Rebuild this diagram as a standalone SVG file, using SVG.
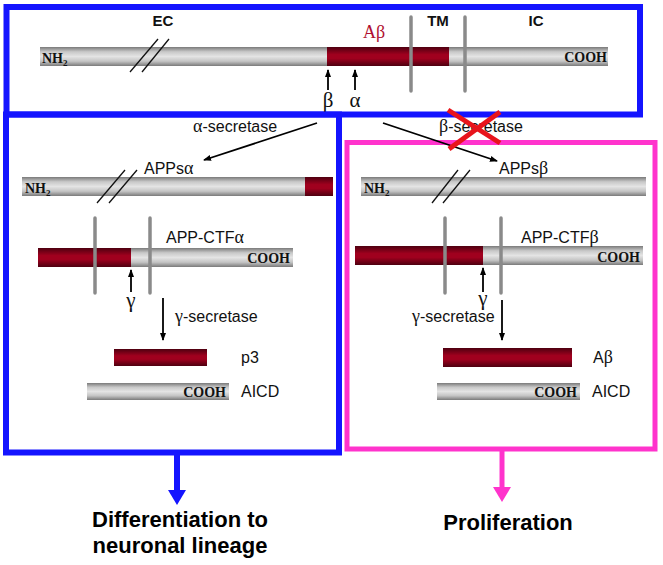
<svg xmlns="http://www.w3.org/2000/svg" width="663" height="565" viewBox="0 0 663 565">
<defs>
<linearGradient id="gGray" x1="0" y1="0" x2="0" y2="1">
<stop offset="0" stop-color="#7a7a7a"/>
<stop offset="0.25" stop-color="#c8c8c8"/>
<stop offset="0.5" stop-color="#e4e4e4"/>
<stop offset="0.75" stop-color="#c4c4c4"/>
<stop offset="1" stop-color="#7a7a7a"/>
</linearGradient>
<linearGradient id="gRed" x1="0" y1="0" x2="0" y2="1">
<stop offset="0" stop-color="#4e0010"/>
<stop offset="0.4" stop-color="#a0001e"/>
<stop offset="0.6" stop-color="#a0001e"/>
<stop offset="1" stop-color="#4e0010"/>
</linearGradient>
<marker id="ah" markerWidth="8" markerHeight="8" refX="7" refY="4" orient="auto" markerUnits="userSpaceOnUse">
<path d="M0,1 L8,4 L0,7 Z" fill="#000"/>
</marker>
<style>
.gray{fill:url(#gGray);}
.red{fill:url(#gRed);}
.tm{stroke:#8a8a8a;stroke-width:3.5;stroke-linecap:round;}
.sl{stroke:#111;stroke-width:1.3;}
.lbl{font-family:"Liberation Sans",Arial,sans-serif;font-size:16px;fill:#111;}
.g{font-family:"Liberation Serif","Times New Roman",serif;}
.reg{font-family:"Liberation Sans",Arial,sans-serif;font-weight:bold;font-size:15px;fill:#111;}
.term{font-family:"Liberation Serif","Times New Roman",serif;font-weight:bold;font-size:14px;fill:#111;}
.sub{font-size:9px;}
.greek{font-family:"Liberation Serif","Times New Roman",serif;font-size:21px;fill:#111;text-anchor:middle;}
.out{font-family:"Liberation Sans",Arial,sans-serif;font-weight:bold;font-size:22px;fill:#000;text-anchor:middle;}
.cut{stroke:#000;stroke-width:1.8;fill:none;}
</style>
</defs>
<rect width="663" height="565" fill="#fff"/>

<g id="top-box">
<rect x="6.5" y="7" width="633.5" height="107.5" fill="none" stroke="#1414ff" stroke-width="6"/>
<line class="tm" x1="411" y1="17" x2="411" y2="91"/>
<line class="tm" x1="465" y1="17" x2="465" y2="91"/>
<rect class="gray" x="40" y="47" width="568" height="19"/>
<rect class="red" x="327" y="47" width="122" height="19"/>
<line x1="411" y1="47" x2="411" y2="66" stroke="#8a8a8a" stroke-width="3.5"/>
<line x1="465" y1="47" x2="465" y2="66" stroke="#8a8a8a" stroke-width="3.5"/>
<line class="sl" x1="130" y1="72" x2="158" y2="39"/>
<line class="sl" x1="142" y1="72" x2="169" y2="39"/>
<text class="term" x="42" y="63">NH<tspan class="sub" dy="3">2</tspan></text>
<text class="term" x="607" y="62" text-anchor="end">COOH</text>
<text class="reg" x="163" y="26" text-anchor="middle">EC</text>
<text class="reg" x="438" y="26" text-anchor="middle">TM</text>
<text class="reg" x="536" y="26" text-anchor="middle">IC</text>
<text x="374" y="38" font-family="Liberation Serif, Times New Roman, serif" font-size="18" fill="#b01030" text-anchor="middle">Aβ</text>
<text class="greek" x="328" y="107">β</text>
<text class="greek" x="355" y="107">α</text>
</g>

<g id="left-box">
<rect x="6" y="114.5" width="333" height="338" fill="none" stroke="#1414ff" stroke-width="6"/>
</g>

<g id="right-box">
<rect x="347" y="142.5" width="308" height="306.5" fill="none" stroke="#ff33cc" stroke-width="5"/>
</g>

<g id="appsa">
<rect class="gray" x="22" y="177" width="311" height="19"/>
<rect class="red" x="305" y="177" width="28" height="19"/>
<line class="sl" x1="97" y1="203" x2="125" y2="170"/>
<line class="sl" x1="109" y1="203" x2="137" y2="170"/>
<text class="term" x="25" y="193">NH<tspan class="sub" dy="3">2</tspan></text>
<text class="lbl" x="144" y="174">APPs<tspan class="g" font-size="18">α</tspan></text>
</g>

<g id="ctfa">
<line class="tm" x1="95" y1="218" x2="95" y2="293"/>
<line class="tm" x1="150" y1="218" x2="150" y2="293"/>
<rect class="gray" x="38" y="248" width="255" height="19"/>
<rect class="red" x="38" y="248" width="93" height="19"/>
<line x1="95" y1="248" x2="95" y2="267" stroke="#8a8a8a" stroke-width="3.5"/>
<line x1="150" y1="248" x2="150" y2="267" stroke="#8a8a8a" stroke-width="3.5"/>
<text class="term" x="290" y="263" text-anchor="end">COOH</text>
<text class="lbl" x="166" y="243">APP-CTF<tspan class="g" font-size="18">α</tspan></text>
<text class="greek" x="131" y="307" font-size="20">γ</text>
</g>

<g id="p3">
<rect class="red" x="114" y="349" width="93" height="17"/>
<text class="lbl" x="241" y="363">p3</text>
</g>

<g id="aicd-left">
<rect class="gray" x="87" y="383" width="142" height="17"/>
<text class="term" x="226" y="397" text-anchor="end">COOH</text>
<text class="lbl" x="241" y="397">AICD</text>
</g>

<g id="appsb">
<rect class="gray" x="361" y="177" width="285" height="19"/>
<line class="sl" x1="432" y1="203" x2="458" y2="170"/>
<line class="sl" x1="443" y1="203" x2="470" y2="170"/>
<text class="term" x="364" y="193">NH<tspan class="sub" dy="3">2</tspan></text>
<text class="lbl" x="499" y="174">APPs<tspan class="g" font-size="18">β</tspan></text>
</g>

<g id="ctfb">
<line class="tm" x1="445" y1="218" x2="445" y2="293"/>
<line class="tm" x1="501" y1="218" x2="501" y2="293"/>
<rect class="gray" x="355" y="246" width="288" height="19"/>
<rect class="red" x="355" y="246" width="128" height="19"/>
<line x1="445" y1="246" x2="445" y2="265" stroke="#8a8a8a" stroke-width="3.5"/>
<line x1="501" y1="246" x2="501" y2="265" stroke="#8a8a8a" stroke-width="3.5"/>
<text class="term" x="640" y="262" text-anchor="end">COOH</text>
<text class="lbl" x="521" y="243">APP-CTF<tspan class="g" font-size="18">β</tspan></text>
<text class="greek" x="483" y="305" font-size="20">γ</text>
</g>

<g id="abeta">
<rect class="red" x="443" y="348" width="129" height="19"/>
<text class="lbl" x="593" y="363">A<tspan class="g" font-size="18">β</tspan></text>
</g>

<g id="aicd-right">
<rect class="gray" x="437" y="383" width="143" height="17"/>
<text class="term" x="577" y="397" text-anchor="end">COOH</text>
<text class="lbl" x="592" y="397">AICD</text>
</g>

<g id="outcome-left">
<text class="out" x="180" y="527">Differentiation to</text>
<text class="out" x="180" y="553">neuronal lineage</text>
</g>

<g id="outcome-right">
<text class="out" x="508" y="530">Proliferation</text>
</g>

<g id="connectors">
<line class="cut" x1="328" y1="90" x2="328" y2="70" marker-end="url(#ah)"/>
<line class="cut" x1="355" y1="90" x2="355" y2="70" marker-end="url(#ah)"/>
<line class="cut" x1="317" y1="123" x2="204" y2="160" marker-end="url(#ah)"/>
<text class="lbl" x="193" y="132"><tspan class="g" font-size="18">α</tspan>-secretase</text>
<line class="cut" x1="383" y1="123" x2="497" y2="161" marker-end="url(#ah)"/>
<text class="lbl" x="439" y="132"><tspan class="g" font-size="18">β</tspan>-secretase</text>
<line class="cut" x1="131" y1="292" x2="131" y2="270" stroke-width="1.6" marker-end="url(#ah)"/>
<line class="cut" x1="163" y1="298" x2="163" y2="340" stroke-width="1.6" marker-end="url(#ah)"/>
<text class="lbl" x="175" y="322"><tspan class="g" font-size="18">γ</tspan>-secretase</text>
<line class="cut" x1="483" y1="292" x2="483" y2="268" stroke-width="1.6" marker-end="url(#ah)"/>
<line class="cut" x1="502" y1="300" x2="502" y2="340" stroke-width="1.6" marker-end="url(#ah)"/>
<text class="lbl" x="412" y="322"><tspan class="g" font-size="18">γ</tspan>-secretase</text>
<line x1="448" y1="110" x2="500" y2="143" stroke="#e8141c" stroke-width="5"/>
<line x1="500" y1="112" x2="449" y2="149" stroke="#e8141c" stroke-width="5"/>
<line x1="177" y1="455" x2="177" y2="491" stroke="#1414ff" stroke-width="6"/>
<polygon points="168,490 186,490 177,505" fill="#1414ff"/>
<line x1="502" y1="451" x2="502" y2="488" stroke="#ff33cc" stroke-width="5"/>
<polygon points="493,487 511,487 502,502" fill="#ff33cc"/>
</g>
</svg>
